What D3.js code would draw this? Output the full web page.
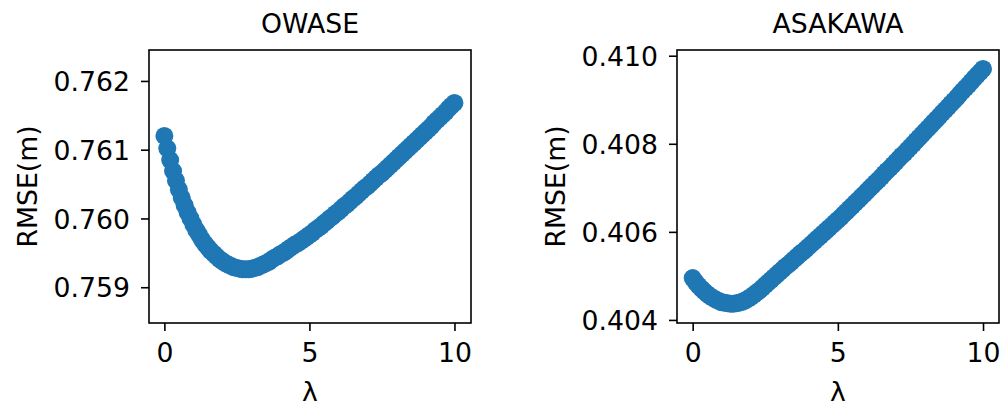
<!DOCTYPE html>
<html>
<head>
<meta charset="utf-8">
<script src="https://cdn.jsdelivr.net/npm/d3@7"></script>
<style>
  html, body { margin: 0; padding: 0; background: #fff; }
  svg { display: block; }
  text { font-family: "DejaVu Sans", sans-serif; fill: #000; }
</style>
</head>
<body>
<svg id="chart" width="1003" height="406"></svg>
<script>
// Regularisation strength λ, sampled every 0.1 from 0 to 10
const lambdas = d3.range(101).map(i => i / 10);

// RMSE (m) at each λ — OWASE station
const owaseRmse = [
  0.76120, 0.76102, 0.76085, 0.76069, 0.76055, 0.76042, 0.76030, 0.76019, 0.76009, 0.76000,
  0.75991, 0.75983, 0.75976, 0.75969, 0.75963, 0.75958, 0.75953, 0.75949, 0.75945, 0.75941,
  0.75938, 0.75935, 0.75933, 0.75931, 0.75929, 0.75928, 0.75927, 0.75926, 0.75926, 0.75926,
  0.75927, 0.75928, 0.75929, 0.75931, 0.75933, 0.75935, 0.75937, 0.75940, 0.75943, 0.75945,
  0.75948, 0.75950, 0.75953, 0.75956, 0.75959, 0.75962, 0.75964, 0.75967, 0.75970, 0.75973,
  0.75976, 0.75979, 0.75983, 0.75986, 0.75989, 0.75993, 0.75996, 0.76000, 0.76003, 0.76007,
  0.76010, 0.76014, 0.76018, 0.76021, 0.76025, 0.76029, 0.76032, 0.76036, 0.76040, 0.76044,
  0.76047, 0.76051, 0.76055, 0.76059, 0.76063, 0.76066, 0.76070, 0.76074, 0.76078, 0.76082,
  0.76086, 0.76090, 0.76094, 0.76098, 0.76102, 0.76106, 0.76110, 0.76114, 0.76118, 0.76122,
  0.76126, 0.76130, 0.76134, 0.76139, 0.76143, 0.76147, 0.76151, 0.76155, 0.76160, 0.76164,
  0.76168
];

// RMSE (m) at each λ — ASAKAWA station
const asakawaRmse = [
  0.40495, 0.40486, 0.40478, 0.40471, 0.40465, 0.40459, 0.40454, 0.40450, 0.40446, 0.40443,
  0.40440, 0.40439, 0.40438, 0.40437, 0.40437, 0.40438, 0.40439, 0.40441, 0.40444, 0.40448,
  0.40452, 0.40457, 0.40462, 0.40467, 0.40473, 0.40479, 0.40485, 0.40491, 0.40497, 0.40503,
  0.40509, 0.40515, 0.40521, 0.40526, 0.40532, 0.40538, 0.40544, 0.40550, 0.40555, 0.40561,
  0.40567, 0.40573, 0.40579, 0.40585, 0.40591, 0.40597, 0.40603, 0.40609, 0.40615, 0.40621,
  0.40627, 0.40633, 0.40640, 0.40646, 0.40653, 0.40659, 0.40666, 0.40672, 0.40679, 0.40685,
  0.40692, 0.40699, 0.40705, 0.40712, 0.40718, 0.40725, 0.40732, 0.40739, 0.40745, 0.40752,
  0.40759, 0.40766, 0.40773, 0.40779, 0.40786, 0.40793, 0.40800, 0.40807, 0.40814, 0.40821,
  0.40828, 0.40835, 0.40842, 0.40849, 0.40856, 0.40863, 0.40870, 0.40877, 0.40884, 0.40891,
  0.40898, 0.40905, 0.40913, 0.40920, 0.40927, 0.40934, 0.40941, 0.40949, 0.40956, 0.40963,
  0.40970
];

const xTicks = [0, 5, 10];
const owaseYTicks = [0.759, 0.760, 0.761, 0.762];
const asakawaYTicks = [0.404, 0.406, 0.408, 0.410];

const panels = [
  { title: "OWASE", values: owaseRmse, yTicks: owaseYTicks,
    left: 149, right: 471, xDomain: [-0.53, 10.57], yDomain: [0.75848, 0.76245] },
  { title: "ASAKAWA", values: asakawaRmse, yTicks: asakawaYTicks,
    left: 677, right: 999, xDomain: [-0.54, 10.55], yDomain: [0.40393, 0.41013] }
];

const plotTop = 50, plotBottom = 323;
const fontSize = 26.7;
const color = "#1f77b4";
const svg = d3.select("#chart");

panels.forEach(p => {
  const x = d3.scaleLinear().domain(p.xDomain).range([p.left, p.right]);
  const y = d3.scaleLinear().domain(p.yDomain).range([plotBottom, plotTop]);
  const g = svg.append("g");

  // scatter points
  g.append("g")
    .selectAll("circle")
    .data(lambdas.map((l, i) => [l, p.values[i]]))
    .join("circle")
    .attr("cx", d => x(d[0]))
    .attr("cy", d => y(d[1]))
    .attr("r", 9)
    .attr("fill", color);

  // axes frame
  g.append("rect")
    .attr("x", p.left).attr("y", plotTop)
    .attr("width", p.right - p.left).attr("height", plotBottom - plotTop)
    .attr("fill", "none").attr("stroke", "#000").attr("stroke-width", 1.6);

  // x axis
  const xa = g.append("g")
    .attr("transform", `translate(0,${plotBottom})`)
    .call(d3.axisBottom(x).tickValues(xTicks).tickFormat(d3.format("d"))
      .tickSize(8).tickPadding(12));
  // y axis
  const ya = g.append("g")
    .attr("transform", `translate(${p.left},0)`)
    .call(d3.axisLeft(y).tickValues(p.yTicks).tickFormat(d3.format(".3f"))
      .tickSize(8).tickPadding(11));

  [xa, ya].forEach(a => {
    a.select(".domain").remove();
    a.selectAll(".tick line").attr("stroke", "#000").attr("stroke-width", 1.6);
    a.selectAll(".tick text")
      .attr("font-family", "DejaVu Sans, sans-serif")
      .attr("font-size", fontSize).attr("fill", "#000");
  });
  ya.selectAll(".tick text").attr("dy", "0.36em");

  const cx = (p.left + p.right) / 2;
  // title
  g.append("text")
    .attr("x", cx).attr("y", 33)
    .attr("text-anchor", "middle")
    .attr("font-size", fontSize)
    .text(p.title);
  // x label
  g.append("text")
    .attr("x", cx).attr("y", 401)
    .attr("text-anchor", "middle")
    .attr("font-size", fontSize)
    .text("λ");
  // y label
  g.append("text")
    .attr("transform", `translate(${p.left - 112},${(plotTop + plotBottom) / 2}) rotate(-90)`)
    .attr("text-anchor", "middle")
    .attr("font-size", fontSize)
    .text("RMSE(m)");
});
</script>
</body>
</html>
